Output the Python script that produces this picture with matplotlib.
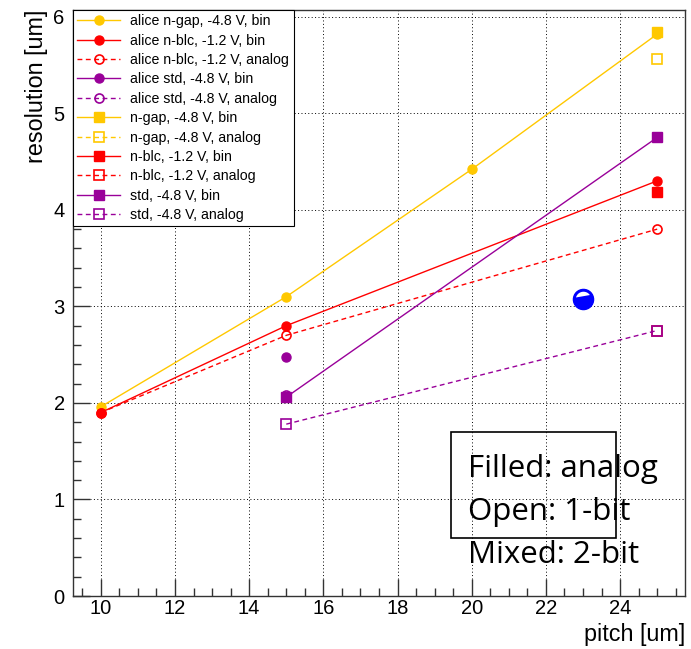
import matplotlib
matplotlib.use("Agg")
import matplotlib.pyplot as plt
from matplotlib.patches import Rectangle
from matplotlib.path import Path
from matplotlib.ticker import MultipleLocator
import numpy as np

# ---------------- data ----------------
alice_ngap_bin_x = [10, 15, 20, 25]
alice_ngap_bin_y = [1.96, 3.10, 4.42, 5.82]
alice_nblc_bin_x = [10, 15, 25]
alice_nblc_bin_y = [1.90, 2.80, 4.30]
alice_nblc_analog_x = [10, 15, 25]
alice_nblc_analog_y = [1.90, 2.70, 3.80]
alice_std_bin_x = [15]
alice_std_bin_y = [2.48]
alice_std_analog_x = [15]
alice_std_analog_y = [2.08]
ngap_bin_x = [25]
ngap_bin_y = [5.84]
ngap_analog_x = [25]
ngap_analog_y = [5.56]
nblc_bin_x = [25]
nblc_bin_y = [4.18]
nblc_analog_x = [25]
nblc_analog_y = [2.75]
std_bin_x = [15, 25]
std_bin_y = [2.06, 4.75]
std_analog_x = [15, 25]
std_analog_y = [1.78, 2.75]

mixed_x = [23.0]
mixed_y = [3.08]

labels = [
    "alice n-gap, -4.8 V, bin",
    "alice n-blc, -1.2 V, bin",
    "alice n-blc, -1.2 V, analog",
    "alice std, -4.8 V, bin",
    "alice std, -4.8 V, analog",
    "n-gap, -4.8 V, bin",
    "n-gap, -4.8 V, analog",
    "n-blc, -1.2 V, bin",
    "n-blc, -1.2 V, analog",
    "std, -4.8 V, bin",
    "std, -4.8 V, analog",
]
note_lines = ["Filled: analog", "Open: 1-bit", "Mixed: 2-bit"]

GOLD = "#ffc800"
RED = "#ff0000"
PURPLE = "#990099"

plt.rcParams["font.family"] = ["Liberation Sans", "DejaVu Sans"]

fig = plt.figure(figsize=(6.91, 6.49), dpi=100)
ax = fig.add_axes([73 / 691, 53 / 649, 612 / 691, 586 / 649])

DASH = (0, (3.5, 2.5))
series = [
    (alice_ngap_bin_x, alice_ngap_bin_y, GOLD, "o", True, "-"),
    (alice_nblc_bin_x, alice_nblc_bin_y, RED, "o", True, "-"),
    (alice_nblc_analog_x, alice_nblc_analog_y, RED, "o", False, DASH),
    (alice_std_bin_x, alice_std_bin_y, PURPLE, "o", True, "-"),
    (alice_std_analog_x, alice_std_analog_y, PURPLE, "o", False, DASH),
    (ngap_bin_x, ngap_bin_y, GOLD, "s", True, "-"),
    (ngap_analog_x, ngap_analog_y, GOLD, "s", False, DASH),
    (nblc_bin_x, nblc_bin_y, RED, "s", True, "-"),
    (nblc_analog_x, nblc_analog_y, RED, "s", False, DASH),
    (std_bin_x, std_bin_y, PURPLE, "s", True, "-"),
    (std_analog_x, std_analog_y, PURPLE, "s", False, DASH),
]

handles = []
for (xs, ys, c, m, filled, ls), lab in zip(series, labels):
    ms = 6.5 if m == "o" else 6.8
    h, = ax.plot(xs, ys, color=c, lw=1.0, linestyle=ls, marker=m,
                 markersize=ms, markerfacecolor=c if filled else "none",
                 markeredgecolor=c, markeredgewidth=1.0 if filled else 1.2,
                 label=lab)
    handles.append(h)

# mixed (2-bit) marker: blue circle with white segment
ax.plot(mixed_x, mixed_y, "o", color="#0000ff", markersize=14.5,
        markeredgecolor="#0000ff", zorder=5)
ang = np.linspace(np.deg2rad(35), np.deg2rad(165), 30)
r = 0.80
verts = [(r * np.cos(a), r * np.sin(a)) for a in ang]
verts.append(verts[0])
codes = [Path.MOVETO] + [Path.LINETO] * (len(verts) - 2) + [Path.CLOSEPOLY]
verts = [(1.0, 0.0)] + verts
codes = [Path.MOVETO] + codes
seg = Path(verts, codes)
ax.plot(mixed_x, mixed_y, linestyle="none", marker=seg, markersize=14.0,
        markerfacecolor="white", markeredgewidth=0, zorder=6)

ax.set_xlim(9.25, 25.75)
ax.set_ylim(0, 6.07)
ax.xaxis.set_major_locator(MultipleLocator(2))
ax.xaxis.set_minor_locator(MultipleLocator(0.5))
ax.yaxis.set_major_locator(MultipleLocator(1))
ax.yaxis.set_minor_locator(MultipleLocator(0.2))
ax.tick_params(which="both", direction="in", top=False, right=False,
               labelsize=14.5, width=1.0, color="#333333")
ax.tick_params(which="major", length=12)
ax.tick_params(which="minor", length=6)
ax.tick_params(axis="x", pad=2.5)
ax.tick_params(axis="y", pad=6)
ax.grid(True, which="major", color="black", linestyle=(0, (1, 2.5)), lw=0.7)
for s in ax.spines.values():
    s.set_linewidth(1.0)
    s.set_color("#333333")

ax.set_xlabel("pitch [um]", fontsize=16.8, loc="right", labelpad=3)
ax.set_ylabel("resolution [um]", fontsize=16.8, loc="top", labelpad=4)

leg = ax.legend(handles=handles, loc="upper left", bbox_to_anchor=(0, 1),
                borderaxespad=0, fontsize=10.2, frameon=True, fancybox=False,
                edgecolor="black", framealpha=1, handlelength=3.0,
                handletextpad=0.75, labelspacing=0.38, borderpad=0.3)
leg.get_frame().set_linewidth(0.8)
leg.set_zorder(10)

# annotation box
fig.patches.append(Rectangle((451 / 691, 1 - 538 / 649), 165 / 691, 106 / 649,
                             transform=fig.transFigure, fill=False,
                             edgecolor="black", lw=1.2, zorder=20))
for i, t in enumerate(note_lines):
    fig.text(468 / 691, 1 - (477 + i * 43) / 649, t, fontsize=22.5,
             family=["Open Sans", "DejaVu Sans"], ha="left", va="baseline",
             zorder=21)

fig.savefig("out.png", dpi=100)
